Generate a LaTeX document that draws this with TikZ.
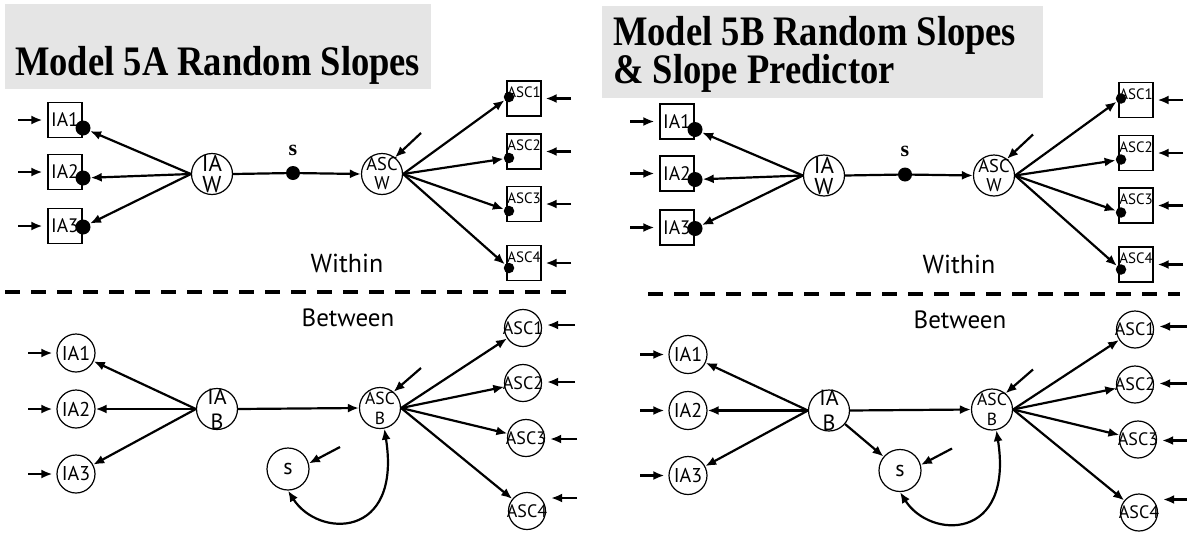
\documentclass[tikz,border=0pt]{standalone}
\usepackage{fontspec}
\setmainfont{Liberation Serif}
\setsansfont{PT Sans}
\newfontfamily\titlefont[FakeStretch=0.87]{Liberation Serif}
\usetikzlibrary{arrows.meta}
\tikzset{
  arr/.style={-{Latex[length=11pt,width=9pt]}, line width=2.2pt},
  dblarr/.style={{Latex[length=11pt,width=9pt]}-{Latex[length=11pt,width=9pt]}, line width=2.2pt},
  obs/.style={draw, line width=1.2pt, minimum width=34pt, minimum height=35pt, inner sep=0pt, font=\sffamily\fontsize{19.5}{19}\selectfont},
  obssm/.style={obs, font=\sffamily\fontsize{15}{15}\selectfont, text height=10pt, text depth=12pt},
  circ/.style={circle, draw, line width=1.2pt, minimum size=#1, inner sep=0pt},
  intext/.style={align=center, inner sep=0pt},
  bigdot/.style={circle, fill, inner sep=0pt, minimum size=15pt},
  smdot/.style={circle, fill, inner sep=0pt, minimum size=10.5pt},
  lbl/.style={font=\sffamily\fontsize{26}{26}\selectfont, inner sep=0pt},
  dashline/.style={line width=4pt, dash pattern=on 15pt off 11pt},
  titletext/.style={font=\titlefont\bfseries\fontsize{42}{38}\selectfont, inner sep=0pt, anchor=base west},
}
\newcommand\drawpanel{%
  % ---------- Within ----------
  \node[obs] (ia1) at (65,120) {IA1};
  \node[obs] (ia2) at (65,172) {IA2};
  \node[obs] (ia3) at (65,226) {IA3};
  \coordinate (ia1in) at (18,120);
  \coordinate (ia2in) at (18,172);
  \coordinate (ia3in) at (18,226);
  \draw[arr, shorten >=5pt] (ia1in) -- (ia1.west);
  \draw[arr, shorten >=5pt] (ia2in) -- (ia2.west);
  \draw[arr, shorten >=5pt] (ia3in) -- (ia3.west);
  \node[bigdot] (d1) at (83,128) {};
  \node[bigdot] (d2) at (83,178) {};
  \node[bigdot] (d3) at (83,227) {};
  \node[circ=41pt, label={[intext, font=\sffamily\fontsize{23}{21}\selectfont]center:IA\\W}] (iaw) at (212,174) {};
  \draw[arr] (iaw.west) -- (d1);
  \draw[arr] (iaw.west) -- (d2);
  \draw[arr] (iaw.west) -- (d3);
  \node[circ=41pt, label={[intext, font=\sffamily\fontsize{18.5}{19}\selectfont]center:ASC\\W}] (ascw) at (382,174) {};
  \node[bigdot, minimum size=14pt] (sd) at (293,173) {};
  \node[font=\bfseries\fontsize{22}{22}\selectfont, inner sep=0pt] (sl) at (293,150) {s};
  \draw[line width=2.2pt] (iaw.east) -- (sd);
  \draw[arr] (sd) -- (ascw.west);
  \coordinate (ascwin) at (421,133);
  \draw[arr] (ascwin) -- (ascw.52);
  \node[obssm] (a1) at (524,98.5) {ASC1};
  \node[obssm] (a2) at (524,151.5) {ASC2};
  \node[obssm] (a3) at (524,204) {ASC3};
  \node[obssm] (a4) at (524,263) {ASC4};
  \node[smdot] (e1) at (509,97) {};
  \node[smdot] (e2) at (509,158) {};
  \node[smdot] (e3) at (509,211) {};
  \node[smdot] (e4) at (509,268) {};
  \draw[arr] (ascw.east) -- (e1);
  \draw[arr] (ascw.east) -- (e2);
  \draw[arr] (ascw.east) -- (e3);
  \draw[arr] (ascw.east) -- (e4);
  \coordinate (a1in) at (571,98.5);
  \coordinate (a2in) at (571,151.5);
  \coordinate (a3in) at (571,204);
  \coordinate (a4in) at (571,263);
  \draw[arr, shorten >=4pt] (a1in) -- (a1.east);
  \draw[arr, shorten >=4pt] (a2in) -- (a2.east);
  \draw[arr, shorten >=4pt] (a3in) -- (a3.east);
  \draw[arr, shorten >=4pt] (a4in) -- (a4.east);
  \node[lbl] (within) at (347,263) {Within};
  % ---------- Between ----------
  \node[lbl, font=\sffamily\fontsize{25}{25}\selectfont] (between) at (348,318) {Between};
  \node[circ=38pt, label={[intext, font=\sffamily\fontsize{20}{20}\selectfont]center:IA1}] (b1) at (76,353) {};
  \node[circ=38pt, label={[intext, font=\sffamily\fontsize{20}{20}\selectfont]center:IA2}] (b2) at (76,409) {};
  \node[circ=38pt, label={[intext, font=\sffamily\fontsize{20}{20}\selectfont]center:IA3}] (b3) at (76,474) {};
  \coordinate (b1in) at (28,353);
  \coordinate (b2in) at (28,409);
  \coordinate (b3in) at (28,474);
  \draw[arr, shorten >=4pt] (b1in) -- (b1.west);
  \draw[arr, shorten >=4pt] (b2in) -- (b2.west);
  \draw[arr, shorten >=4pt] (b3in) -- (b3.west);
  \node[circ=41pt, label={[intext, font=\sffamily\fontsize{22}{25}\selectfont]center:IA\\B}] (iab) at (217,409) {};
  \draw[arr] (iab.west) -- (b1);
  \draw[arr] (iab.west) -- (b2);
  \draw[arr] (iab.west) -- (b3);
  \node[circ=41pt, label={[intext, font=\sffamily\fontsize{17.5}{20}\selectfont]center:ASC\\B}] (ascb) at (380,408) {};
  \draw[arr] (iab.east) -- (ascb.west);
  \coordinate (ascbin) at (421,368);
  \draw[arr] (ascbin) -- (ascb.50);
  \node[circ=42pt, label={[intext, font=\sffamily\fontsize{22}{22}\selectfont]center:s}] (s) at (288,469) {};
  \coordinate (sin) at (340,447);
  \draw[arr] (sin) -- (s.15);
  \draw[dblarr] (s.south) .. controls (318,538) and (402,540) .. (ascb.-78);
  \node[circ=37pt, label={[intext, font=\sffamily\fontsize{18}{18}\selectfont]center:ASC1}] (c1) at (523,328) {};
  \node[circ=37pt, label={[intext, font=\sffamily\fontsize{18}{18}\selectfont]center:ASC2}] (c2) at (523,383) {};
  \node[circ=37pt, label={[intext, font=\sffamily\fontsize{18}{18}\selectfont]center:ASC3}] (c3) at (526,438) {};
  \node[circ=37pt, label={[intext, font=\sffamily\fontsize{18}{18}\selectfont]center:ASC4}] (c4) at (527,511) {};
  \draw[arr] (ascb.east) -- (c1);
  \draw[arr] (ascb.east) -- (c2);
  \draw[arr] (ascb.east) -- (c3);
  \draw[arr] (ascb.east) -- (c4);
  \coordinate (c1in) at (575,325);
  \coordinate (c2in) at (575,382);
  \coordinate (c3in) at (577,439);
  \coordinate (c4in) at (577,498);
  \draw[arr, shorten >=5pt] (c1in) -- (c1in -| c1.east);
  \draw[arr, shorten >=5pt] (c2in) -- (c2in -| c2.east);
  \draw[arr, shorten >=5pt] (c3in) -- (c3in -| c3.east);
  \draw[arr, shorten >=5pt] (c4in) -- (c4in -| c4.east);
}
\begin{document}
\begin{tikzpicture}[x=1pt, y=-1pt]
  \useasboundingbox (0,0) rectangle (1187,536);
  \fill[white] (0,0) rectangle (1187,536);
  % titles
  \fill[black!10] (5,4) rectangle (431,89);
  \node[titletext] (t1) at (15,75) {Model 5A Random Slopes};
  \fill[black!10] (602,6) rectangle (1043,98);
  \node[titletext] (t2a) at (613,45) {Model 5B Random Slopes};
  \node[titletext] (t2b) at (613,83) {\& Slope Predictor};
  % dashed separators
  \coordinate (dl1) at (5,292);
  \coordinate (dl2) at (570,292);
  \draw[dashline] (dl1) -- (dl2);
  \coordinate (dr1) at (648,294);
  \coordinate (dr2) at (1180,294);
  \draw[dashline] (dr1) -- (dr2);
  % left panel
  \begin{scope}
    \drawpanel
  \end{scope}
  % right panel
  \begin{scope}[shift={(612,1.5)}]
    \drawpanel
    \draw[arr] (iab) -- (s);
  \end{scope}
\end{tikzpicture}
\end{document}
